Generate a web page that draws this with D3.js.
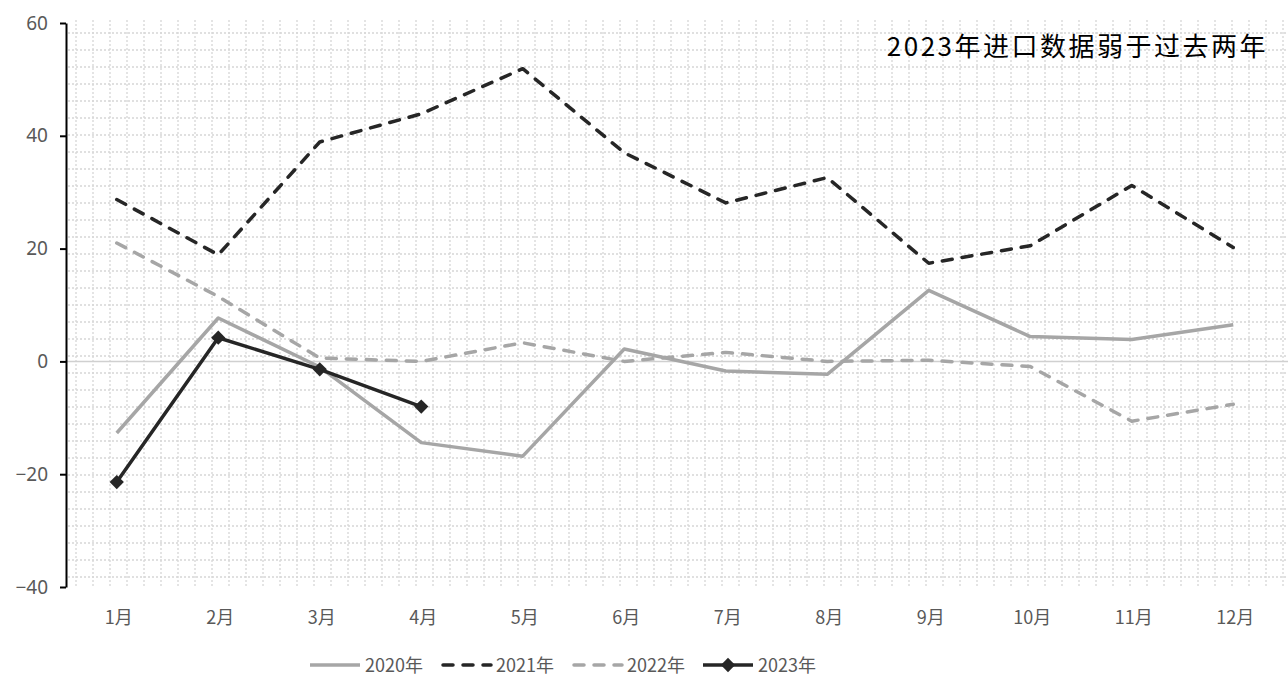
<!DOCTYPE html>
<html>
<head>
<meta charset="utf-8">
<script src="https://cdnjs.cloudflare.com/ajax/libs/d3/7.8.5/d3.min.js"></script>
<style>
  body { margin: 0; background: #fff; }
  text { font-family: "Noto Sans CJK SC", "Noto Sans", sans-serif; }
</style>
</head>
<body>
<div id="chart"></div>
<script>
var months = ["1月", "2月", "3月", "4月", "5月", "6月", "7月", "8月", "9月", "10月", "11月", "12月"];
var yTicks = [-40, -20, 0, 20, 40, 60];
var s2020 = [-12.7, 7.7, -1.0, -14.4, -16.8, 2.2, -1.7, -2.3, 12.6, 4.4, 3.9, 6.5];
var s2021 = [28.7, 18.9, 38.9, 43.9, 51.9, 37.0, 28.1, 32.6, 17.4, 20.5, 31.2, 20.2];
var s2022 = [21.0, 11.5, 0.6, 0.0, 3.3, 0.0, 1.6, 0.0, 0.2, -0.9, -10.6, -7.6];
var s2023 = [-21.4, 4.2, -1.4, -8.0];
var title = "2023年进口数据弱于过去两年";

var width = 1288, height = 680;
var pL = 66, pR = 1284, pT = 23, pB = 587;

var svg = d3.select("#chart").append("svg")
  .attr("width", width)
  .attr("height", height);

var x = d3.scaleBand().domain(months).range([pL, pR]);
var y = d3.scaleLinear().domain([-40, 60]).range([pB, pT]);

// dotted pattern background of the plot area
var grid = svg.append("g").attr("stroke", "#d6d6d6").attr("stroke-width", 1.3)
  .attr("stroke-dasharray", "2,2");
d3.range(76, pR + 2, 17).forEach(function (gx) {
  grid.append("line").attr("x1", gx).attr("x2", gx).attr("y1", pT - 3).attr("y2", pB);
});
d3.range(33, pB + 1, 17).forEach(function (gy) {
  grid.append("line").attr("x1", pL + 2).attr("x2", pR + 2).attr("y1", gy).attr("y2", gy);
});

// zero line
svg.append("line")
  .attr("x1", pL).attr("x2", pR + 4)
  .attr("y1", y(0)).attr("y2", y(0))
  .attr("stroke", "#d0d0d0").attr("stroke-width", 1.5);

// y axis
var yAxis = svg.append("g")
  .attr("transform", "translate(" + pL + ",0)")
  .call(d3.axisLeft(y).tickValues(yTicks).tickSize(6).tickSizeOuter(0).tickPadding(12));
yAxis.attr("font-size", 19).attr("font-family", "'Noto Sans', sans-serif");
yAxis.select(".domain").attr("stroke", "#000").attr("stroke-width", 2);
yAxis.selectAll(".tick line").attr("stroke", "#000").attr("stroke-width", 2);
yAxis.selectAll(".tick text").attr("fill", "#595959")
  .style("font-size", "19px")
  .style("font-family", "'Noto Sans', sans-serif");

// x labels
svg.append("g").selectAll("text")
  .data(months)
  .enter().append("text")
  .attr("x", function (d) { return x(d) + x.bandwidth() / 2 + 2; })
  .attr("y", 624)
  .attr("text-anchor", "middle")
  .attr("fill", "#595959")
  .style("font-size", "18px")
  .text(function (d) { return d; });

var line = d3.line()
  .x(function (d, i) { return x(months[i]) + x.bandwidth() / 2; })
  .y(function (d) { return y(d); });

var series = [
  { name: "2020年", data: s2020, color: "#a6a6a6", dash: null, marker: false },
  { name: "2021年", data: s2021, color: "#262626", dash: "10,10", marker: false },
  { name: "2022年", data: s2022, color: "#a6a6a6", dash: "10,10", marker: false },
  { name: "2023年", data: s2023, color: "#262626", dash: null, marker: true }
];

series.forEach(function (s) {
  svg.append("path")
    .datum(s.data)
    .attr("d", line)
    .attr("fill", "none")
    .attr("stroke", s.color)
    .attr("stroke-width", 3.5)
    .attr("stroke-linecap", s.dash ? "round" : "butt")
    .attr("stroke-linejoin", "round")
    .attr("stroke-dasharray", s.dash);
  if (s.marker) {
    svg.append("g").selectAll("path")
      .data(s.data)
      .enter().append("path")
      .attr("transform", function (d, i) {
        return "translate(" + (x(months[i]) + x.bandwidth() / 2) + "," + y(d) + ")";
      })
      .attr("d", d3.symbol().type(d3.symbolDiamond2).size(130))
      .attr("fill", s.color);
  }
});

// title
svg.append("text")
  .attr("x", 1268).attr("y", 56)
  .attr("text-anchor", "end")
  .attr("fill", "#000")
  .style("font-size", "26px")
  .style("letter-spacing", "2.5px")
  .text(title);

// legend
var legX = [310, 441, 572, 703];
var leg = svg.append("g");
series.forEach(function (s, i) {
  var g = leg.append("g").attr("transform", "translate(" + legX[i] + ",665)");
  g.append("line")
    .attr("x1", s.dash ? 2 : 0).attr("x2", s.dash ? 50 : 50)
    .attr("stroke", s.color).attr("stroke-width", 3.5)
    .attr("stroke-dasharray", s.dash ? "10,10" : null)
    .attr("stroke-linecap", s.dash ? "round" : "butt");
  if (s.marker) {
    g.append("path")
      .attr("transform", "translate(25,0)")
      .attr("d", d3.symbol().type(d3.symbolDiamond2).size(130))
      .attr("fill", s.color);
  }
  g.append("text")
    .attr("x", 55).attr("y", 7)
    .attr("fill", "#595959")
    .style("font-size", "18px")
    .text(s.name);
});
</script>
</body>
</html>
